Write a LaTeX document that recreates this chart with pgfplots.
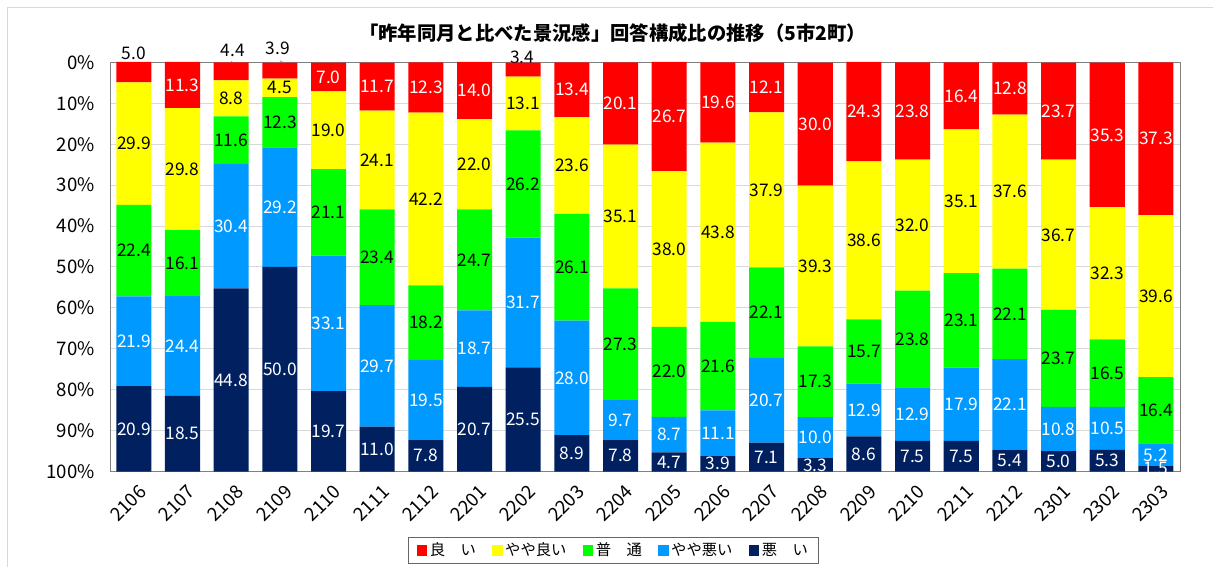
\documentclass[border=0pt]{standalone}
\usepackage{pgfplots}
\pgfplotsset{compat=1.18}
\usepackage{pgfplotstable}
\usepackage{fontspec}
\setmainfont{Noto Sans CJK JP}
\definecolor{cRed}{HTML}{FF0000}
\definecolor{cYel}{HTML}{FFFF00}
\definecolor{cGrn}{HTML}{00FF00}
\definecolor{cBlu}{HTML}{0099FF}
\definecolor{cNav}{HTML}{002060}
\definecolor{cGrid}{HTML}{D9D9D9}
\definecolor{cAxis}{HTML}{808080}

% good = 良い, slg = やや良い, norm = 普通, sbad = やや悪い, bad = 悪い (percent)
\pgfplotstableread{
x  good glab slg  norm sbad bad
0   5.0 {}   29.9 22.4 21.9 20.9
1  11.3 11.3 29.8 16.1 24.4 18.5
2   4.4 {}   8.8  11.6 30.4 44.8
3   3.9 {}   4.5  12.3 29.2 50.0
4   7.0 7.0  19.0 21.1 33.1 19.7
5  11.7 11.7 24.1 23.4 29.7 11.0
6  12.3 12.3 42.2 18.2 19.5 7.8
7  14.0 14.0 22.0 24.7 18.7 20.7
8   3.4 {}   13.1 26.2 31.7 25.5
9  13.4 13.4 23.6 26.1 28.0 8.9
10 20.1 20.1 35.1 27.3 9.7  7.8
11 26.7 26.7 38.0 22.0 8.7  4.7
12 19.6 19.6 43.8 21.6 11.1 3.9
13 12.1 12.1 37.9 22.1 20.7 7.1
14 30.0 30.0 39.3 17.3 10.0 3.3
15 24.3 24.3 38.6 15.7 12.9 8.6
16 23.8 23.8 32.0 23.8 12.9 7.5
17 16.4 16.4 35.1 23.1 17.9 7.5
18 12.8 12.8 37.6 22.1 22.1 5.4
19 23.7 23.7 36.7 23.7 10.8 5.0
20 35.3 35.3 32.3 16.5 10.5 5.3
21 37.3 37.3 39.6 16.4 5.2  1.5
}\data

\begin{document}
\begin{tikzpicture}[x=1pt,y=1pt]
\useasboundingbox (0,0) rectangle (909.75,425.25);
\draw[cGrid, line width=0.75pt] (5.6,-5) -- (5.6,419.5) -- (915,419.5);
\node[font=\bfseries\fontsize{14.5}{16}\selectfont] at (459.4,400.5) {「昨年同月と比べた景況感」回答構成比の推移（5市2町）};
\begin{axis}[
  at={(82.5pt,71.5pt)}, anchor=south west,
  scale only axis, width=802.5pt, height=307pt,
  ybar stacked, bar width=0.72,
  xmin=-0.49, xmax=21.495, ymin=0, ymax=100,
  clip=false,
  xtick={0,...,21},
  xticklabels={2106,2107,2108,2109,2110,2111,2112,2201,2202,2203,2204,2205,2206,2207,2208,2209,2210,2211,2212,2301,2302,2303},
  ytick={0,10,...,100},
  yticklabels={100\%,90\%,80\%,70\%,60\%,50\%,40\%,30\%,20\%,10\%,0\%},
  ymajorgrids, grid style={cGrid, line width=0.75pt},
  axis line style={cAxis, line width=0.75pt},
  major tick length=0pt,
  tick label style={font=\fontsize{14}{16}\selectfont, text=black},
  yticklabel style={anchor=east, xshift=-8pt},
  xticklabel style={xshift=3pt, yshift=-9pt, rotate=45, anchor=north east, inner sep=0pt},
  point meta=explicit symbolic,
  nodes near coords,
  every node near coord/.append style={font=\fontsize{13}{14}\selectfont, inner sep=0pt},
  every axis plot post/.append style={draw=none,
    legend image code/.code={\fill[##1, draw=none] (0pt,-4pt) rectangle (8pt,4pt);}},
  reverse legend,
  legend style={at={(0.4706,-0.1925)}, anchor=center, legend columns=5,
    draw=black!60, line width=0.75pt, font=\fontsize{11.5}{13}\selectfont,
    inner xsep=6pt, inner ysep=2pt,
    /tikz/every even column/.append style={column sep=10pt}},
]
\addplot[fill=cNav, every node near coord/.append style={text=white}] table[x=x, y=bad, meta=bad] {\data};
\addplot[fill=cBlu, every node near coord/.append style={text=white}] table[x=x, y=sbad, meta=sbad] {\data};
\addplot[fill=cGrn, every node near coord/.append style={text=black}] table[x=x, y=norm, meta=norm] {\data};
\addplot[fill=cYel, every node near coord/.append style={text=black}] table[x=x, y=slg, meta=slg] {\data};
\addplot[fill=cRed, every node near coord/.append style={text=white}] table[x=x, y=good, meta=glab] {\data};
\legend{悪　い, やや悪い, 普　通, やや良い, 良　い}
\draw[cAxis, line width=0.5pt] (axis cs:2.0,100.2) -- (axis cs:2.33,97.6);
\draw[cAxis, line width=0.5pt] (axis cs:3.0,100.4) -- (axis cs:3.33,98.1);
\node[font=\fontsize{13}{14}\selectfont] at (axis cs:0,102.3) {5.0};
\node[font=\fontsize{13}{14}\selectfont] at (axis cs:2.03,103.0) {4.4};
\node[font=\fontsize{13}{14}\selectfont] at (axis cs:2.96,103.3) {3.9};
\node[font=\fontsize{13}{14}\selectfont] at (axis cs:7.98,101.3) {3.4};
\end{axis}
\end{tikzpicture}
\end{document}
